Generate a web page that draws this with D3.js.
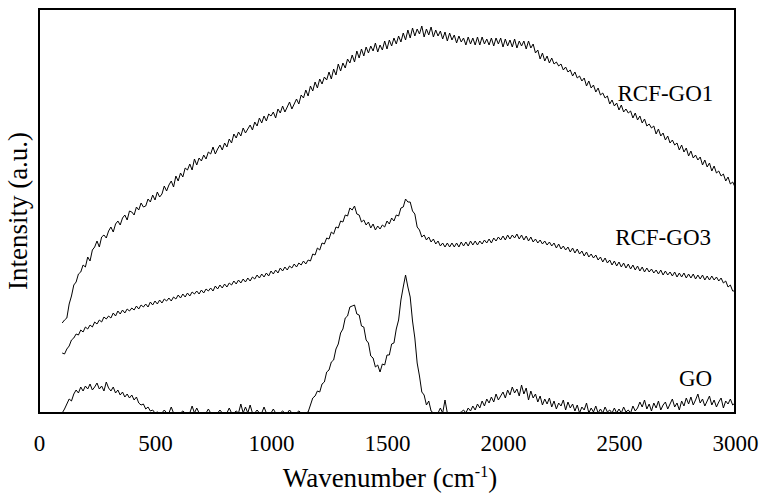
<!DOCTYPE html>
<html>
<head>
<meta charset="utf-8">
<script src="https://cdn.jsdelivr.net/npm/d3@7"></script>
<style>
body { margin: 0; background: #fff; }
</style>
</head>
<body>
<div id="chartHolder"></div>
<script>
//*************
// Raman spectra: GO, RCF-GO3, RCF-GO1
//*************

// sampling grid of the spectra, cm-1
var wavenumbers = d3.range(100, 3001, 10);

var xTicks = [0, 500, 1000, 1500, 2000, 2500, 3000];

var seriesNames = ["RCF-GO1", "RCF-GO3", "GO"];

// intensities (a.u.)
var rcfGo1 = [
	90, 93, 95, 109, 117, 128, 131, 139, 141, 148,
	146, 156, 152, 163, 166, 172, 166, 176, 178, 175,
	182, 186, 181, 189, 192, 188, 195, 198, 193, 202,
	201, 198, 206, 203, 210, 206, 207, 214, 211, 218,
	213, 221, 216, 219, 227, 222, 228, 232, 226, 237,
	232, 240, 236, 245, 243, 249, 243, 254, 248, 255,
	252, 258, 254, 261, 259, 266, 259, 264, 268, 263,
	270, 266, 274, 270, 279, 275, 281, 277, 285, 280,
	284, 288, 283, 291, 287, 295, 290, 297, 292, 299,
	297, 301, 295, 304, 300, 307, 301, 306, 311, 304,
	309, 314, 309, 318, 315, 323, 317, 327, 322, 331,
	325, 334, 329, 336, 333, 341, 334, 344, 338, 349,
	342, 350, 345, 354, 350, 358, 351, 362, 355, 364,
	357, 366, 360, 367, 362, 370, 361, 368, 363, 372,
	364, 373, 367, 375, 369, 377, 371, 380, 373, 383,
	375, 385, 377, 384, 379, 387, 376, 384, 378, 386,
	376, 383, 377, 382, 374, 381, 372, 380, 373, 378,
	370, 377, 371, 375, 368, 376, 369, 375, 368, 376,
	368, 376, 369, 374, 368, 375, 367, 375, 369, 375,
	366, 374, 367, 373, 366, 374, 365, 372, 367, 372,
	364, 372, 365, 369, 360, 363, 354, 360, 352, 357,
	350, 355, 349, 351, 347, 349, 343, 346, 341, 343,
	337, 341, 335, 337, 332, 335, 327, 332, 325, 328,
	321, 325, 318, 320, 315, 317, 309, 313, 307, 310,
	303, 308, 301, 304, 300, 302, 295, 300, 293, 297,
	290, 294, 287, 289, 285, 287, 279, 284, 277, 280,
	273, 277, 270, 273, 268, 270, 263, 268, 261, 265,
	257, 262, 255, 258, 253, 256, 248, 253, 246, 250,
	242, 247, 240, 242, 237, 239, 232, 236, 229, 231,
	226
];

var rcfGo3 = [
	60, 59, 64, 67, 73, 75, 79, 78, 83, 81,
	86, 84, 88, 86, 91, 89, 93, 91, 96, 94,
	97, 95, 100, 97, 102, 99, 103, 100, 104, 102,
	105, 103, 107, 104, 108, 106, 109, 106, 111, 108,
	112, 109, 113, 110, 114, 112, 115, 112, 116, 114,
	118, 115, 119, 116, 120, 117, 121, 119, 122, 119,
	123, 120, 124, 122, 125, 122, 127, 124, 128, 125,
	129, 126, 130, 128, 132, 129, 133, 130, 134, 131,
	135, 132, 136, 134, 138, 135, 139, 136, 140, 137,
	142, 139, 143, 140, 145, 142, 146, 143, 147, 145,
	149, 146, 150, 148, 152, 149, 153, 152, 159, 158,
	165, 163, 170, 169, 175, 174, 181, 179, 186, 185,
	192, 191, 198, 197, 205, 203, 207, 199, 198, 191,
	193, 188, 191, 185, 189, 183, 187, 184, 188, 186,
	192, 189, 195, 192, 198, 197, 205, 206, 214, 211,
	211, 202, 199, 186, 183, 176, 178, 173, 176, 171,
	174, 169, 172, 167, 170, 166, 170, 166, 170, 166,
	170, 166, 171, 167, 171, 167, 172, 168, 172, 168,
	172, 169, 173, 170, 174, 170, 175, 172, 176, 173,
	177, 173, 178, 174, 178, 175, 179, 174, 178, 173,
	177, 172, 176, 171, 174, 170, 173, 169, 172, 168,
	171, 167, 170, 165, 169, 164, 167, 163, 166, 161,
	165, 160, 164, 159, 162, 157, 161, 156, 159, 155,
	158, 153, 156, 151, 155, 150, 153, 148, 152, 147,
	151, 146, 150, 145, 149, 144, 148, 143, 147, 142,
	146, 141, 145, 141, 144, 140, 143, 139, 143, 138,
	142, 138, 141, 137, 141, 136, 140, 136, 140, 135,
	139, 135, 139, 134, 138, 134, 138, 133, 137, 133,
	137, 133, 136, 132, 135, 130, 132, 126, 128, 122,
	122
];

var go = [
	0, 4, 9, 14, 12, 19, 23, 20, 26, 22,
	27, 24, 29, 23, 26, 30, 24, 27, 22, 31,
	25, 22, 26, 20, 23, 18, 21, 16, 19, 15,
	18, 13, 16, 10, 8, 9, 4, 6, 2, 3,
	0, 1, 0, 0, 3, 0, 0, 6, 0, 0,
	0, 0, 2, 0, 0, 0, 7, 0, 5, 0,
	0, 0, 0, 4, 0, 0, 0, 0, 3, 0,
	0, 0, 5, 0, 0, 2, 0, 9, 0, 6,
	0, 8, 0, 0, 3, 0, 0, 6, 0, 0,
	0, 4, 0, 0, 0, 2, 0, 0, 3, 0,
	0, 0, 2, 0, 0, 0, 1, 8, 15, 17,
	22, 21, 29, 31, 41, 43, 51, 53, 64, 69,
	80, 84, 95, 97, 106, 107, 108, 99, 98, 87,
	86, 73, 70, 57, 55, 46, 48, 41, 49, 48,
	58, 58, 69, 70, 84, 93, 113, 126, 138, 126,
	116, 92, 75, 50, 37, 21, 18, 8, 12, 2,
	0, 0, 0, 5, 0, 13, 0, 0, 0, 0,
	0, 0, 1, 3, 0, 5, 2, 7, 3, 9,
	5, 12, 7, 14, 10, 16, 11, 19, 13, 17,
	21, 15, 23, 18, 26, 20, 24, 17, 28, 19,
	25, 13, 22, 15, 19, 11, 17, 8, 14, 9,
	15, 6, 12, 4, 10, 7, 13, 3, 11, 5,
	9, 2, 8, 0, 6, 3, 10, 0, 5, 1,
	7, 0, 4, 0, 6, 1, 3, 0, 5, 0,
	4, 0, 6, 1, 3, 0, 7, 2, 5, 11,
	6, 13, 4, 9, 2, 10, 5, 12, 3, 8,
	11, 4, 9, 14, 6, 10, 3, 12, 7, 15,
	9, 16, 8, 13, 19, 10, 14, 7, 12, 17,
	8, 13, 6, 11, 15, 5, 12, 9, 14, 8,
	10
];

var seriesValues = [rcfGo1, rcfGo3, go];

// where each series name sits: wavenumber and intensity of the label baseline
var labelAnchors = [[2700, 312], [2690, 168], [2830, 27]];


function SpectraKit(svgelem) {

this.globals = {
	svgMargin: {
		top: 9,
		right: 29,
		bottom: 85,
		left: 39
	},
	svgWidth: 764,
	svgHeight: 498,
	font: "Liberation Serif, Tinos, Times New Roman, Times, DejaVu Serif, Noto Serif, FreeSerif, serif",
	plotWidth: function() {return this.svgWidth - this.svgMargin.left - this.svgMargin.right;},
	plotHeight: function() {return this.svgHeight - this.svgMargin.top - this.svgMargin.bottom;}
};

var g = this.globals;

this.x = d3.scaleLinear().domain([0, 3000]).range([0, g.plotWidth()]);
this.y = d3.scaleLinear().domain([0, 404]).range([g.plotHeight(), 0]);

this.root = svgelem.append("svg")
				.attr("width", g.svgWidth)
				.attr("height", g.svgHeight)
				.attr("font-family", g.font);

this.svg = this.root.append("g")
				.attr("class", "margingroup")
				.attr("transform", "translate(" + g.svgMargin.left + "," + g.svgMargin.top + ")");
}

SpectraKit.prototype.drawAxes = function() {

	var g = this.globals;

	var xAxis = d3.axisBottom(this.x)
		.tickValues(xTicks)
		.tickSize(0)
		.tickPadding(22)
		.tickFormat(d3.format("d"));

	var ax = this.svg.append("g")
		.attr("transform", "translate(0," + g.plotHeight() + ")")
		.call(xAxis)
		.attr("font-family", g.font)
		.attr("font-size", 23);

	ax.select(".domain").remove();
	ax.selectAll("text")
		.attr("fill", "#000");

	// x title with superscript
	var xt = this.svg.append("text")
		.attr("x", g.plotWidth() / 2 + 3)
		.attr("y", g.plotHeight() + 74)
		.attr("text-anchor", "middle")
		.attr("font-size", 27)
		.attr("fill", "#000");
	xt.append("tspan").text("Wavenumber (cm");
	xt.append("tspan").attr("font-size", 16).attr("dy", -10).text("-1");
	xt.append("tspan").attr("dy", 10).text(")");

	this.svg.append("text")
		.attr("transform", "translate(-12," + (g.plotHeight() / 2) + ") rotate(-90)")
		.attr("text-anchor", "middle")
		.attr("font-size", 27)
		.attr("fill", "#000")
		.text("Intensity (a.u.)");
}

SpectraKit.prototype.drawSeries = function() {

	var that = this;

	var line = d3.line()
		.x(function(d) {return that.x(d[0]);})
		.y(function(d) {return that.y(d[1]);});

	var rows = seriesValues.map(function(vals) {
		return vals.map(function(v, i) {return [wavenumbers[i], v];});
	});

	this.svg.selectAll(".spectrum").data(rows)
		.enter()
		.append("path")
		.attr("class", "spectrum")
		.attr("d", line)
		.attr("fill", "none")
		.attr("stroke", "#000")
		.attr("stroke-width", 1)
		.attr("stroke-linejoin", "round");

	this.svg.selectAll(".seriesLabel").data(seriesNames)
		.enter()
		.append("text")
		.attr("class", "seriesLabel")
		.attr("x", function(d, i) {return that.x(labelAnchors[i][0]);})
		.attr("y", function(d, i) {return that.y(labelAnchors[i][1]);})
		.attr("text-anchor", "middle")
		.attr("font-size", 23)
		.attr("fill", "#000")
		.text(function(d) {return d;});
}

SpectraKit.prototype.drawFrame = function() {

	this.svg.append("rect")
		.attr("x", 0)
		.attr("y", 0)
		.attr("width", this.globals.plotWidth())
		.attr("height", this.globals.plotHeight())
		.attr("fill", "none")
		.attr("stroke", "#000")
		.attr("stroke-width", 2);
}


var spectra = new SpectraKit(d3.select("#chartHolder"));

spectra.drawAxes();
spectra.drawSeries();
spectra.drawFrame();
</script>
</body>
</html>
